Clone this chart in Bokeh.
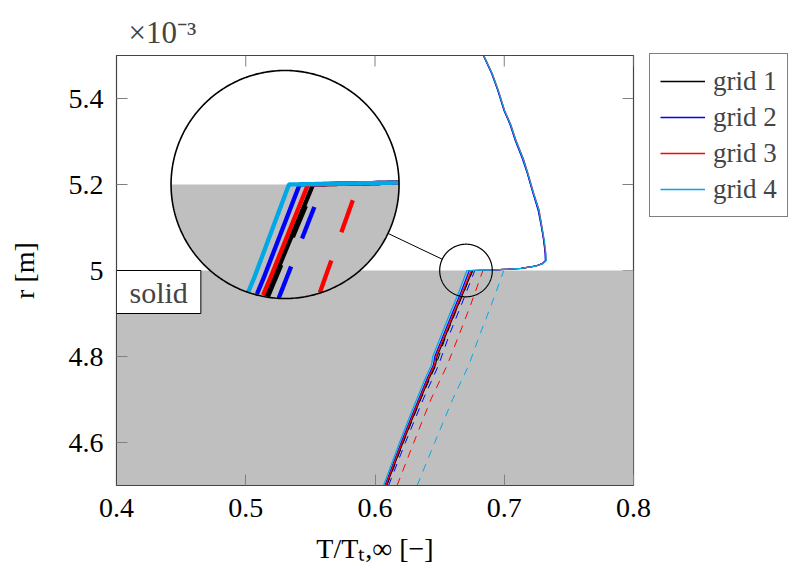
import numpy as np
from bokeh.plotting import figure
from bokeh.models import (Range1d, FixedTicker, CustomJSTickFormatter,
                          Legend, LegendItem, Label, Title)
from bokeh.embed import file_html
from bokeh.resources import INLINE

# ---------------- data (r in units of 1e-3 m) ----------------
grid_names = ["grid 1", "grid 2", "grid 3", "grid 4"]
grid_colors = ["#000000", "#0000ff", "#ff0000", "#00a9e6"]

x_ticks = [0.4, 0.5, 0.6, 0.7, 0.8]
y_ticks = [4.6, 4.8, 5.0, 5.2, 5.4]
r_interface = 5.0

r_solid = [4.50, 4.55, 4.60, 4.65, 4.70, 4.75, 4.78, 4.80, 4.85, 4.90, 4.95, 5.00]
T_solid_g1 = [0.6089, 0.6152, 0.6216, 0.6282, 0.6350, 0.6420, 0.6468, 0.6480, 0.6548, 0.6615, 0.6685, 0.6754]
T_solid_g2 = [0.6078, 0.6140, 0.6203, 0.6269, 0.6337, 0.6405, 0.6452, 0.6463, 0.6530, 0.6597, 0.6666, 0.6730]
T_solid_g3 = [0.6083, 0.6145, 0.6209, 0.6275, 0.6343, 0.6412, 0.6460, 0.6472, 0.6540, 0.6607, 0.6678, 0.6745]
T_solid_g4 = [0.6066, 0.6128, 0.6190, 0.6255, 0.6322, 0.6390, 0.6437, 0.6447, 0.6513, 0.6580, 0.6649, 0.6711]

r_fluid = [5.001, 5.003, 5.005, 5.010, 5.016, 5.023, 5.040, 5.070, 5.100, 5.140,
           5.180, 5.226, 5.260, 5.302, 5.340, 5.372, 5.420, 5.458, 5.500]
T_fluid_g1 = [0.6900, 0.7030, 0.7130, 0.7240, 0.7295, 0.7320, 0.7318, 0.7306, 0.7290, 0.7266,
              0.7224, 0.7180, 0.7145, 0.7088, 0.7046, 0.7000, 0.6950, 0.6905, 0.6840]
T_fluid_g2 = [0.6900, 0.7030, 0.7128, 0.7238, 0.7293, 0.7318, 0.7316, 0.7305, 0.7288, 0.7262,
              0.7222, 0.7178, 0.7140, 0.7085, 0.7044, 0.6998, 0.6948, 0.6902, 0.6838]
T_fluid_g3 = [0.6900, 0.7031, 0.7130, 0.7240, 0.7296, 0.7322, 0.7320, 0.7308, 0.7293, 0.7270,
              0.7228, 0.7184, 0.7148, 0.7092, 0.7050, 0.7003, 0.6953, 0.6907, 0.6842]
T_fluid_g4 = [0.6902, 0.7033, 0.7132, 0.7243, 0.7300, 0.7325, 0.7322, 0.7310, 0.7292, 0.7268,
              0.7226, 0.7182, 0.7146, 0.7090, 0.7048, 0.7002, 0.6952, 0.6906, 0.6841]

r_dash = [4.50, 4.60, 4.70, 4.78, 4.85, 4.92, 5.00]
T_dash_g1 = [0.6092, 0.6219, 0.6353, 0.6471, 0.6551, 0.6646, 0.6757]
T_dash_g2 = [0.6105, 0.6235, 0.6372, 0.6492, 0.6574, 0.6668, 0.6772]
T_dash_g3 = [0.6171, 0.6300, 0.6432, 0.6559, 0.6650, 0.6740, 0.6835]
T_dash_g4 = [0.6326, 0.6462, 0.6600, 0.6726, 0.6810, 0.6900, 0.6997]

T_solid = [T_solid_g1, T_solid_g2, T_solid_g3, T_solid_g4]
T_fluid = [T_fluid_g1, T_fluid_g2, T_fluid_g3, T_fluid_g4]
T_dash = [T_dash_g1, T_dash_g2, T_dash_g3, T_dash_g4]

# zoom (spy) settings
spy_small_center = (0.6704, 5.0)
spy_big_center = (0.5304, 5.2)
spy_small_r_px = 26.3
spy_big_r_px = 114.0

# ---------------- figure ----------------
FONT = "Liberation Serif"
FW, FH = 517, 430
x0, x1, y0, y1 = 0.4, 0.8, 4.5, 5.5
sx = (x1 - x0) / FW   # data per px
sy = (y1 - y0) / FH
TICK = 11

p = figure(frame_width=FW, frame_height=FH, output_backend="svg", toolbar_location=None,
           x_range=Range1d(x0, x1), y_range=Range1d(y0, y1),
           min_border_left=116, min_border_top=55, min_border_bottom=80, min_border_right=0,
           x_axis_label="T/Tₜ,∞ [−]", y_axis_label="r [m]")
p.xgrid.visible = False
p.ygrid.visible = False
p.outline_line_color = "#444444"
p.outline_line_width = 1.2
p.background_fill_color = "white"
p.border_fill_color = "white"

fmt = CustomJSTickFormatter(code="return Number(tick.toFixed(2)).toString();")
bx = p.below[0]
ly = p.left[0]
bx.ticker = FixedTicker(ticks=x_ticks)
ly.ticker = FixedTicker(ticks=y_ticks)
for ax in [bx, ly]:
    ax.formatter = fmt
    ax.major_tick_in = TICK
    ax.major_tick_out = 0
    ax.minor_tick_in = 0
    ax.minor_tick_out = 0
    ax.major_tick_line_color = "#808080"
    ax.axis_line_color = "#444444"
    ax.major_label_text_font = FONT
    ax.major_label_text_font_size = "28px"
    ax.major_label_text_color = "black"
    ax.major_label_standoff = 13
    ax.axis_label_text_font = FONT
    ax.axis_label_text_font_size = "28px"
    ax.axis_label_text_font_style = "normal"
    ax.axis_label_text_color = "black"
bx.axis_label_standoff = 13
ly.axis_label_standoff = 26

# exponent note above the y axis
p.title = Title(text="×10⁻³", align="left", offset=12, text_font=FONT,
                text_font_size="31px", text_font_style="normal", standoff=12)

# mirrored inner ticks on top and right
p.segment(x0=x_ticks, y0=[y1] * len(x_ticks), x1=x_ticks, y1=[y1 - TICK * sy] * len(x_ticks),
          line_color="#808080", line_width=1)
p.segment(x0=[x1] * len(y_ticks), y0=y_ticks, x1=[x1 - TICK * sx] * len(y_ticks), y1=y_ticks,
          line_color="#808080", line_width=1)

# solid region
p.quad(left=[x0], right=[x1], bottom=[y0], top=[r_interface], fill_color="#bfbfbf", line_color=None)

# dashed lines
for T, c in zip(T_dash, grid_colors):
    p.line(T, r_dash, line_color=c, line_width=1.0, line_dash="8 7")

# full solid lines
full_lines = []
for Ts, Tf, c in zip(T_solid, T_fluid, grid_colors):
    xs = list(Ts) + list(Tf)
    ys = list(r_solid) + list(r_fluid)
    full_lines.append((xs, ys))
    p.line(xs, ys, line_color=c, line_width=1.2)

# legend proxies (a single undefined point: nothing drawn in the plot, only the legend sample)
legend_renderers = [p.line([np.nan], [np.nan], line_color=c, line_width=1.6) for c in grid_colors]

# ---------------- spy / inset ----------------
sc_x, sc_y = spy_small_center
bc_x, bc_y = spy_big_center
M = spy_big_r_px / spy_small_r_px
theta = np.linspace(0, 2 * np.pi, 361)

# small circle and connector
p.line(sc_x + spy_small_r_px * np.cos(theta) * sx, sc_y + spy_small_r_px * np.sin(theta) * sy,
       line_color="black", line_width=1.2)
dxp = (sc_x - bc_x) / sx
dyp = (sc_y - bc_y) / sy
L = np.hypot(dxp, dyp)
ux, uy = dxp / L, dyp / L
p.line([bc_x + ux * spy_big_r_px * sx, sc_x - ux * spy_small_r_px * sx],
       [bc_y + uy * spy_big_r_px * sy, sc_y - uy * spy_small_r_px * sy],
       line_color="black", line_width=1.0)

# white disk + gray part
p.patch(bc_x + spy_big_r_px * np.cos(theta) * sx, bc_y + spy_big_r_px * np.sin(theta) * sy,
        fill_color="white", line_color=None)
yb = bc_y + (r_interface - sc_y) * M
yb_px = (yb - bc_y) / sy
a0 = np.arcsin(np.clip(yb_px / spy_big_r_px, -1, 1))
th2 = np.linspace(np.pi - a0, 2 * np.pi + a0, 241)
p.patch(bc_x + spy_big_r_px * np.cos(th2) * sx, bc_y + spy_big_r_px * np.sin(th2) * sy,
        fill_color="#bfbfbf", line_color=None)


def densify(xs, ys, n=80):
    xs = np.asarray(xs, float)
    ys = np.asarray(ys, float)
    ox, oy = [], []
    t = np.linspace(0, 1, n, endpoint=False)
    for i in range(len(xs) - 1):
        ox.append(xs[i] + (xs[i + 1] - xs[i]) * t)
        oy.append(ys[i] + (ys[i + 1] - ys[i]) * t)
    ox.append(xs[-1:])
    oy.append(ys[-1:])
    return np.concatenate(ox), np.concatenate(oy)


def spy(xs, ys):
    dx, dy = densify(xs, ys)
    inside = ((dx - sc_x) / sx) ** 2 + ((dy - sc_y) / sy) ** 2 <= spy_small_r_px ** 2
    X = bc_x + (dx - sc_x) * M
    Y = bc_y + (dy - sc_y) * M
    X = np.where(inside, X, np.nan)
    Y = np.where(inside, Y, np.nan)
    return X, Y


for T, c in zip(T_dash, grid_colors):
    X, Y = spy(T, r_dash)
    p.line(X, Y, line_color=c, line_width=1.0 * M, line_dash="34 30")
for (xs, ys), c in zip(full_lines, grid_colors):
    X, Y = spy(xs, ys)
    p.line(X, Y, line_color=c, line_width=1.0 * M)

p.line(bc_x + spy_big_r_px * np.cos(theta) * sx, bc_y + spy_big_r_px * np.sin(theta) * sy,
       line_color="black", line_width=1.6)

# "solid" label
p.add_layout(Label(x=x0, y=r_interface, text="solid", text_font=FONT, text_font_size="30px",
                   text_align="left", text_baseline="top", x_offset=0, y_offset=0,
                   padding=(13, 5), border_line_color="black", border_line_width=1,
                   background_fill_color="white", background_fill_alpha=1.0))

# legend
LEG_H = 162
legend = Legend(items=[LegendItem(label=n, renderers=[r]) for n, r in zip(grid_names, legend_renderers)],
                location=(16, FH - LEG_H), margin=8, padding=10, spacing=2,
                glyph_width=45, glyph_height=34, label_height=34, label_standoff=8,
                label_text_font=FONT, label_text_font_size="27px",
                border_line_color="black", border_line_width=1,
                background_fill_alpha=1.0)
p.add_layout(legend, "right")

open("out.html", "w").write(file_html(p, INLINE))
